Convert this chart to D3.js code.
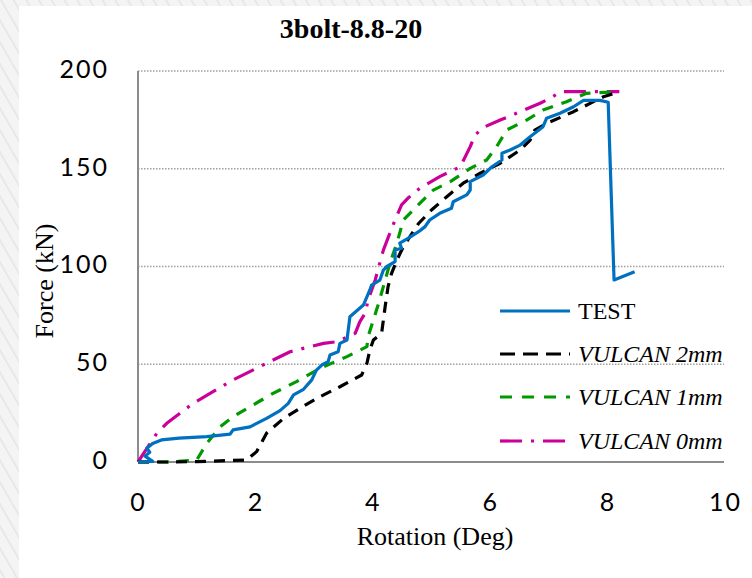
<!DOCTYPE html>
<html>
<head>
<meta charset="utf-8">
<script src="https://cdn.jsdelivr.net/npm/d3@7"></script>
<style>
  html, body { margin: 0; padding: 0; background: #fff; }
  svg { display: block; }
</style>
</head>
<body>
<div id="chart"></div>
<script>
// chart values: [rotation (deg), force (kN)]
var title = "3bolt-8.8-20";
var xTicks = [0, 2, 4, 6, 8, 10];
var yTicks = [0, 50, 100, 150, 200];
var seriesNames = ["TEST", "VULCAN 2mm", "VULCAN 1mm", "VULCAN 0mm"];

var testData = [[0, 0], [0.25, 0.3], [0.12, 3], [0.2, 5], [0.15, 7], [0.25, 9.5], [0.4, 11.3], [0.7, 12.2],
  [1.17, 13], [1.57, 14.3], [1.62, 16.4], [1.91, 18], [2.19, 22.3], [2.42, 26.3], [2.56, 30], [2.65, 34.3],
  [2.82, 37.2], [2.96, 42], [3.04, 47], [3.13, 49.6], [3.24, 51.3], [3.27, 54.7], [3.41, 56.4], [3.44, 60.7],
  [3.56, 62.4], [3.61, 74.3], [3.84, 80.3], [3.95, 88], [3.98, 90.5], [4.12, 93], [4.18, 98.2], [4.24, 100],
  [4.38, 102.5], [4.38, 108.4], [4.49, 109.3], [4.46, 111.9], [4.6, 114.4], [4.78, 117.8], [4.89, 120.4],
  [4.97, 123.8], [5.14, 127.2], [5.34, 129.8], [5.37, 133.1], [5.6, 136.6], [5.66, 139.1], [5.66, 143.4],
  [5.88, 146.8], [6.03, 151], [6.2, 154.5], [6.2, 157.9], [6.34, 159.6], [6.51, 162.1], [6.68, 166.4],
  [6.9, 171.5], [6.96, 175.8], [7.19, 178.4], [7.42, 181.7], [7.59, 185], [7.87, 185], [8.01, 184],
  [8.11, 93.1], [8.46, 97.3]];

var vulcan2Data = [[0, 0], [0.5, 0], [1.0, 0.2], [1.85, 1], [2.02, 5.3], [2.19, 14.7], [2.48, 22.3], [2.76, 27.5],
  [3.1, 33.4], [3.44, 38.5], [3.81, 44.5], [3.9, 50.5], [3.95, 57.3], [4.01, 62.4], [4.15, 65.8], [4.21, 79.4],
  [4.26, 89.7], [4.32, 96.5], [4.41, 103.3], [4.52, 110.1], [4.63, 115.2], [4.78, 122], [5.0, 128.9],
  [5.26, 135.7], [5.54, 142.6], [5.83, 147.7], [6.17, 152.8], [6.51, 159.6], [6.68, 164.7], [6.76, 169.8],
  [6.96, 173.2], [7.42, 179.2], [7.76, 184.3], [7.93, 186.8], [8.18, 189.1]];

var vulcan1Data = [[0, 0], [0.5, 0], [1.0, 1], [1.17, 9.5], [1.4, 18], [1.62, 23.2], [1.91, 28.3], [2.3, 35.1],
  [2.7, 41.1], [3.1, 47.9], [3.56, 53.9], [3.9, 59], [3.92, 64.1], [4.09, 80.3], [4.18, 89.7], [4.29, 101.6],
  [4.41, 111.9], [4.52, 123.8], [4.8, 132.3], [5.03, 139.1], [5.32, 143.4], [5.66, 150.2], [5.94, 154.5],
  [6.11, 161.3], [6.28, 169.8], [6.62, 174.9], [6.9, 180], [7.3, 184.3], [7.64, 188.6], [8.18, 189.4]];

var vulcan0Data = [[0, 0], [0.32, 14.7], [0.49, 19.8], [0.94, 30], [1.62, 42], [2.19, 50.5], [2.59, 56.4],
  [3.16, 60.7], [3.38, 61.5], [3.7, 65.8], [3.78, 71.8], [3.87, 76], [3.92, 82.9], [4.04, 93], [4.18, 108.4],
  [4.29, 117], [4.38, 123.8], [4.49, 131.5], [4.6, 135], [4.8, 140], [5.14, 146], [5.49, 151], [5.66, 161.3],
  [5.74, 167.3], [5.91, 171.5], [6.17, 174.9], [6.85, 183.5], [7.02, 186], [7.2, 189.4], [8.2, 189.4]];

var seriesData = [testData, vulcan2Data, vulcan1Data, vulcan0Data];
var seriesColors = ["#0070c0", "#000000", "#009a00", "#cc0099"];
var seriesDash = [null, "11,8", "11,9", "22,9,3,9"];

class ForceRotationChart {

  constructor(element, width, height) {
    this.element = element;
    this.width = width;
    this.height = height;

    //Scale
    this.x = d3.scaleLinear().domain([0, 10]).range([138, 725]);
    this.y = d3.scaleLinear().domain([0, 200]).range([462, 71]);

    this.svg = '';
    this.render = this.render.bind(this);
  }

  render() {
    var _self = this;
    _self.svg = d3.select(_self.element).append("svg")
      .attr("width", _self.width).attr("height", _self.height);

    this.drawBackground();
    this.drawAxes();
    this.drawLines();
    this.drawLegend();
    this.drawText();
  }

  drawBackground() {
    var _self = this;
    var pat = _self.svg.append("defs").append("pattern")
      .attr("id", "hatch")
      .attr("patternUnits", "userSpaceOnUse")
      .attr("width", 11).attr("height", 11)
      .attr("patternTransform", "rotate(-30)");
    pat.append("rect").attr("width", 11).attr("height", 11).attr("fill", "#f4f4f4");
    pat.append("line").attr("x1", 0).attr("y1", 0).attr("x2", 0).attr("y2", 11)
      .attr("stroke", "#e4e4e4").attr("stroke-width", 3);

    _self.svg.append("rect").attr("width", _self.width).attr("height", _self.height).attr("fill", "url(#hatch)");
    _self.svg.append("rect").attr("x", 19).attr("y", 6)
      .attr("width", _self.width - 19).attr("height", _self.height - 6).attr("fill", "#fff");
  }

  drawAxes() {
    var _self = this;
    var x = _self.x, y = _self.y;

    // dotted gridlines
    _self.svg.append("g")
      .selectAll("line")
      .data(yTicks.filter(function (d) { return d > 0; }))
      .enter().append("line")
      .attr("x1", x(0)).attr("x2", x(10) - 1)
      .attr("y1", function (d) { return y(d); })
      .attr("y2", function (d) { return y(d); })
      .attr("stroke", "#a0a0a0")
      .attr("stroke-width", 1.5)
      .attr("stroke-dasharray", "1.5,1.5");

    var yAxis = _self.svg.append("g")
      .attr("transform", "translate(" + x(0) + ",0)")
      .call(d3.axisLeft(y).tickValues(yTicks).tickSize(0).tickPadding(29));
    var xAxis = _self.svg.append("g")
      .attr("transform", "translate(0," + y(0) + ")")
      .call(d3.axisBottom(x).tickValues(xTicks).tickSize(0).tickPadding(31));

    [yAxis, xAxis].forEach(function (g) {
      g.select(".domain").attr("stroke", "#8c8c8c").attr("stroke-width", 2);
      g.selectAll("text")
        .attr("fill", "#000")
        .style("font-family", "Lato, 'Open Sans', sans-serif")
        .style("font-size", "25px")
        .style("letter-spacing", "2px");
    });
    yAxis.selectAll("text").attr("dy", "0.25em");
    xAxis.select(".domain").attr("d", "M" + x(0) + ",0H" + (x(10) - 1));
    yAxis.select(".domain").attr("d", "M0," + y(200) + "V" + y(0));
  }

  drawLines() {
    var _self = this;
    var line = d3.line()
      .x(function (d) { return _self.x(d[0]); })
      .y(function (d) { return _self.y(d[1]); });

    // draw in reverse so TEST ends on top
    [3, 2, 1, 0].forEach(function (i) {
      _self.svg.append("path")
        .datum(seriesData[i])
        .attr("d", line)
        .attr("fill", "none")
        .attr("stroke", seriesColors[i])
        .attr("stroke-width", 3.2)
        .attr("stroke-linejoin", "round")
        .attr("stroke-dasharray", seriesDash[i]);
    });
  }

  drawLegend() {
    var _self = this;
    var rowsY = [311, 354, 397, 441];
    var lg = _self.svg.append("g");
    seriesNames.forEach(function (name, i) {
      lg.append("line")
        .attr("x1", 500).attr("x2", 570)
        .attr("y1", rowsY[i]).attr("y2", rowsY[i])
        .attr("stroke", seriesColors[i])
        .attr("stroke-width", 3.2)
        .attr("stroke-dasharray", i === 1 ? "15,8" : i === 2 ? "12,10" : seriesDash[i]);
      lg.append("text")
        .attr("x", 578).attr("y", rowsY[i] + 8)
        .style("font-family", "'Liberation Serif', 'Times New Roman', serif")
        .style("font-size", "24px")
        .style("font-style", i === 0 ? "normal" : "italic")
        .text(name);
    });
  }

  drawText() {
    var _self = this;
    _self.svg.append("text")
      .attr("x", 351).attr("y", 38)
      .attr("text-anchor", "middle")
      .style("font-family", "'Liberation Serif', 'Times New Roman', serif")
      .style("font-weight", "bold")
      .style("font-size", "28px")
      .text(title);

    _self.svg.append("text")
      .attr("x", 435).attr("y", 545)
      .attr("text-anchor", "middle")
      .style("font-family", "'Liberation Serif', 'Times New Roman', serif")
      .style("font-size", "26px")
      .text("Rotation (Deg)");

    _self.svg.append("text")
      .attr("transform", "translate(53,281) rotate(-90)")
      .attr("text-anchor", "middle")
      .style("font-family", "'Liberation Serif', 'Times New Roman', serif")
      .style("font-size", "26px")
      .text("Force (kN)");
  }
}

var chart = new ForceRotationChart(document.getElementById("chart"), 752, 578);
chart.render();
</script>
</body>
</html>
